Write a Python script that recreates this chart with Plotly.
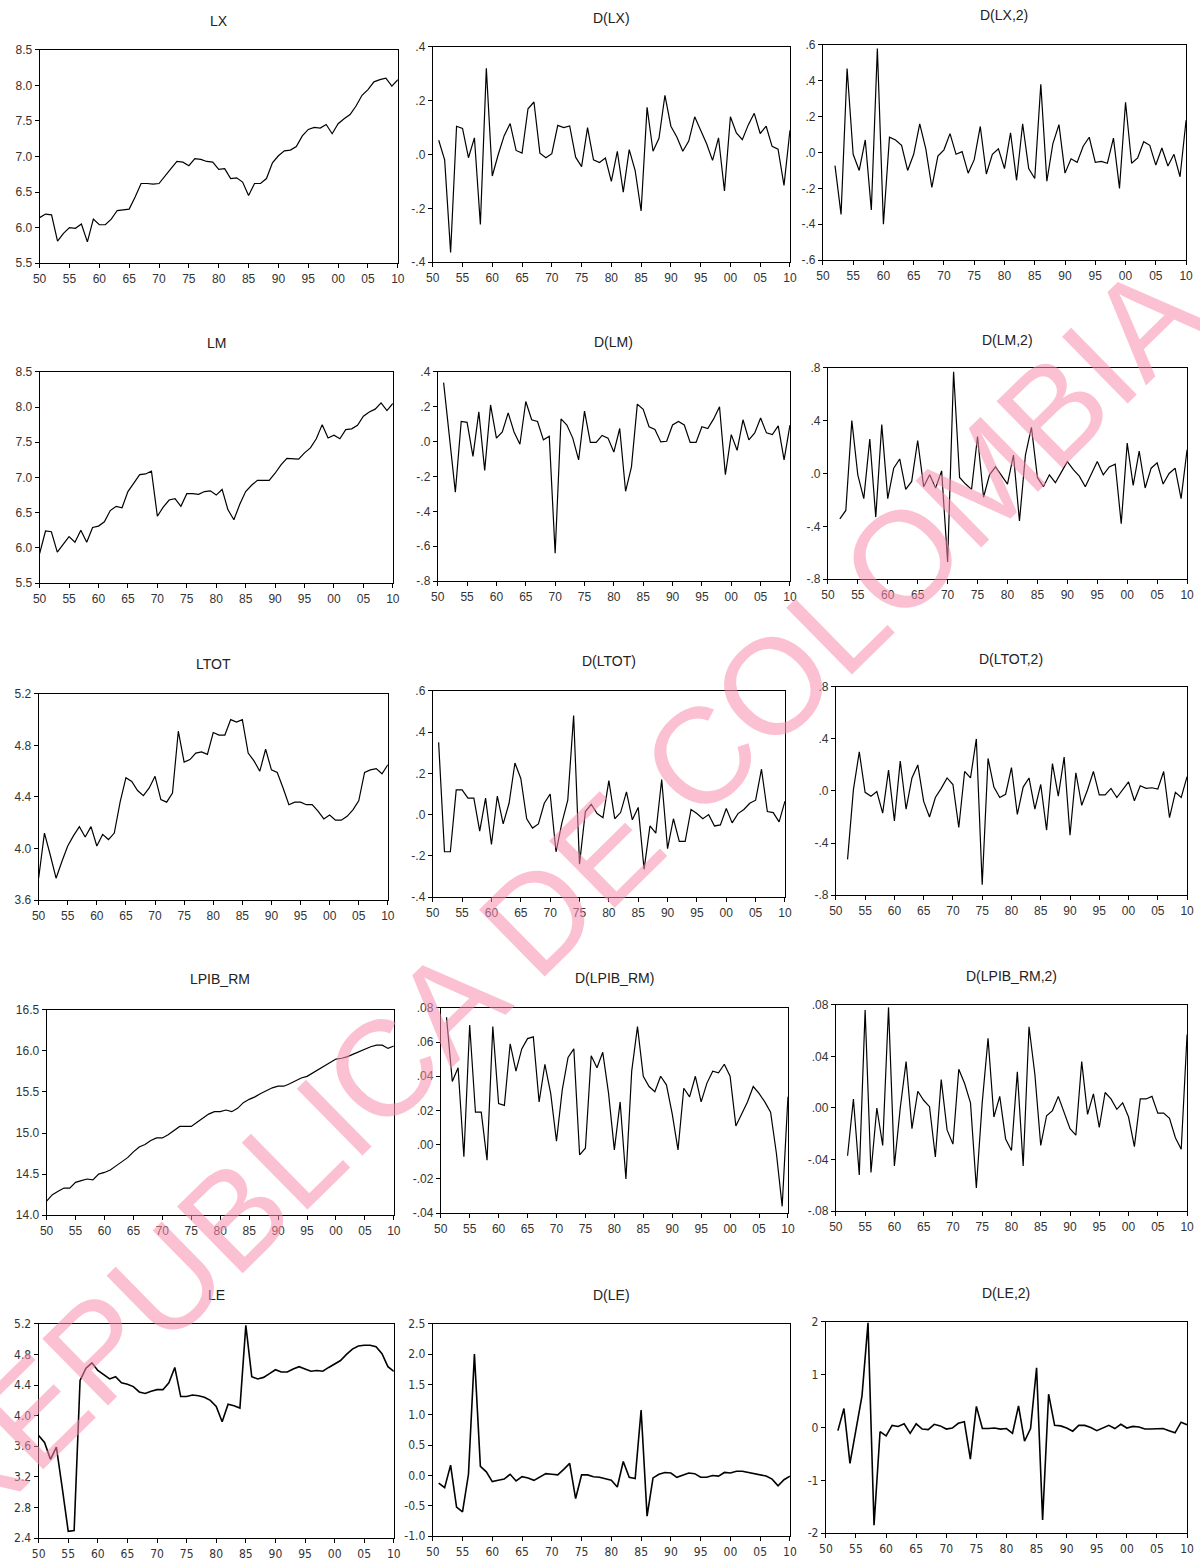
import plotly.graph_objects as go

YEARS = list(range(1950, 2011))

LX = [6.14, 6.19, 6.18, 5.81, 5.92, 6.00, 5.99, 6.05, 5.80, 6.12,
      6.04, 6.04, 6.12, 6.24, 6.25, 6.26, 6.43, 6.62, 6.62, 6.61,
      6.62, 6.73, 6.83, 6.93, 6.92, 6.87, 6.97, 6.96, 6.93, 6.92,
      6.82, 6.83, 6.69, 6.70, 6.64, 6.45, 6.62, 6.62, 6.69, 6.91,
      7.01, 7.08, 7.09, 7.14, 7.29, 7.38, 7.41, 7.40, 7.45, 7.32,
      7.46, 7.53, 7.59, 7.71, 7.86, 7.94, 8.05, 8.08, 8.10, 7.99,
      8.08]

D_LX = [0.053, -0.02, -0.364, 0.105, 0.097, -0.012, 0.062, -0.26, 0.32,
        -0.08, 0.00, 0.07, 0.115, 0.015, 0.005, 0.17, 0.195, 0.005, -0.012,
        0.003, 0.108, 0.100, 0.106, -0.01, -0.045, 0.10, -0.02, -0.03, -0.013,
        -0.10, 0.012, -0.14, 0.018, -0.06, -0.21, 0.175, 0.012, 0.06, 0.22,
        0.105, 0.065, 0.012, 0.05, 0.14, 0.09, 0.04, -0.022, 0.062, -0.135,
        0.14, 0.08, 0.055, 0.11, 0.153, 0.078, 0.105, 0.03, 0.02, -0.115,
        0.09]

D2_LX = [-0.073, -0.345, 0.468, -0.01, -0.10, 0.07, -0.32, 0.58,
         -0.40, 0.085, 0.07, 0.04, -0.10, -0.01, 0.16, 0.02, -0.195, -0.02,
         0.015, 0.105, -0.01, 0.005, -0.115, -0.04, 0.145, -0.12, -0.01, 0.02,
         -0.09, 0.11, -0.155, 0.16, -0.09, -0.145, 0.38, -0.16, 0.05, 0.155,
         -0.115, -0.035, -0.055, 0.035, 0.085, -0.055, -0.05, -0.06, 0.08, -0.20,
         0.28, -0.06, -0.03, 0.06, 0.04, -0.07, 0.025, -0.075, -0.01, -0.135,
         0.18]

LM = [5.92, 6.24, 6.23, 5.94, 6.05, 6.16, 6.08, 6.25, 6.08, 6.29,
      6.31, 6.37, 6.53, 6.59, 6.57, 6.80, 6.92, 7.04, 7.05, 7.09,
      6.45, 6.58, 6.68, 6.70, 6.59, 6.77, 6.77, 6.76, 6.80, 6.81,
      6.75, 6.83, 6.54, 6.40, 6.62, 6.80, 6.89, 6.96, 6.96, 6.96,
      7.06, 7.18, 7.27, 7.27, 7.26, 7.35, 7.42, 7.55, 7.75, 7.56,
      7.60, 7.55, 7.68, 7.69, 7.74, 7.87, 7.93, 7.97, 8.06, 7.95,
      8.05]

D_LM = [0.338, 0.02, -0.29, 0.115, 0.11, -0.085, 0.17, -0.165, 0.21,
        0.02, 0.055, 0.165, 0.055, -0.015, 0.23, 0.125, 0.115, 0.01, 0.03,
        -0.64, 0.13, 0.095, 0.02, -0.105, 0.175, -0.005, -0.005, 0.035, 0.02,
        -0.06, 0.075, -0.285, -0.145, 0.215, 0.185, 0.085, 0.07, -0.002, 0.002,
        0.095, 0.115, 0.095, -0.005, -0.005, 0.085, 0.075, 0.13, 0.20, -0.19,
        0.04, -0.05, 0.125, 0.01, 0.05, 0.135, 0.05, 0.04, 0.09, -0.105,
        0.095]

D2_LM = [-0.343, -0.28, 0.40, -0.01, -0.19, 0.26, -0.33, 0.37,
         -0.19, 0.04, 0.11, -0.12, -0.06, 0.25, -0.10, -0.01, -0.11, 0.02,
         -0.67, 0.77, -0.03, -0.08, -0.12, 0.28, -0.18, -0.01, 0.05, -0.02,
         -0.08, 0.14, -0.36, 0.14, 0.35, -0.03, -0.10, -0.01, -0.07, 0.01,
         0.09, 0.03, -0.02, -0.10, -0.01, 0.09, -0.01, 0.05, 0.07, -0.38,
         0.23, -0.09, 0.17, -0.11, 0.04, 0.08, -0.08, 0.00, 0.04, -0.19,
         0.18]

LTOT = [3.77, 4.12, 3.95, 3.77, 3.90, 4.02, 4.10, 4.17, 4.09, 4.17,
        4.02, 4.11, 4.07, 4.12, 4.36, 4.55, 4.52, 4.45, 4.41, 4.47,
        4.56, 4.38, 4.36, 4.43, 4.91, 4.67, 4.69, 4.74, 4.75, 4.73,
        4.90, 4.88, 4.88, 5.00, 4.98, 5.00, 4.74, 4.68, 4.60, 4.77,
        4.61, 4.59, 4.47, 4.34, 4.36, 4.36, 4.34, 4.34, 4.29, 4.23,
        4.26, 4.22, 4.22, 4.25, 4.30, 4.37, 4.59, 4.61, 4.62, 4.58,
        4.65]

D_LTOT = [0.35, -0.18, -0.18, 0.12, 0.12, 0.08, 0.08, -0.08, 0.08,
          -0.145, 0.09, -0.045, 0.055, 0.25, 0.175, -0.02, -0.065, -0.045, 0.055,
          0.10, -0.18, -0.04, 0.07, 0.48, -0.24, 0.015, 0.05, 0.005, -0.015,
          0.165, -0.02, 0.01, 0.11, -0.025, 0.035, -0.265, -0.055, -0.09, 0.17,
          -0.165, -0.02, -0.13, -0.13, 0.025, 0.005, -0.02, 0.00, -0.055, -0.05,
          0.03, -0.04, 0.005, 0.025, 0.055, 0.07, 0.22, 0.015, 0.01, -0.035,
          0.065]

D2_LTOT = [-0.525, 0.01, 0.30, -0.01, -0.04, -0.005, -0.17, 0.16,
           -0.23, 0.23, -0.14, 0.10, 0.20, -0.08, -0.20, -0.05, 0.02, 0.10,
           0.05, -0.28, 0.15, 0.10, 0.40, -0.72, 0.25, 0.03, -0.05, -0.025,
           0.18, -0.18, 0.03, 0.10, -0.14, 0.05, -0.30, 0.21, -0.04, 0.26,
           -0.34, 0.14, -0.11, 0.01, 0.15, -0.03, -0.03, 0.02, -0.05, 0.01,
           0.07, -0.075, 0.04, 0.02, 0.025, 0.015, 0.15, -0.205, -0.01, -0.05,
           0.11]

LPIB_RM = [14.17, 14.25, 14.29, 14.33, 14.33, 14.40, 14.42, 14.44, 14.43, 14.50,
           14.52, 14.55, 14.60, 14.65, 14.70, 14.77, 14.83, 14.86, 14.91, 14.94,
           14.94, 14.98, 15.03, 15.08, 15.08, 15.08, 15.13, 15.18, 15.23, 15.26,
           15.26, 15.28, 15.26, 15.30, 15.37, 15.41, 15.44, 15.48, 15.52, 15.55,
           15.57, 15.57, 15.60, 15.63, 15.67, 15.69, 15.73, 15.77, 15.82, 15.86,
           15.90, 15.91, 15.93, 15.96, 15.99, 16.02, 16.05, 16.07, 16.07, 16.03,
           16.06]

D_LPIB_RM = [0.0745, 0.037, 0.045, -0.007, 0.070, 0.019, 0.019, -0.009, 0.069,
             0.024, 0.023, 0.059, 0.043, 0.056, 0.062, 0.063, 0.025, 0.047, 0.030,
             0.002, 0.032, 0.051, 0.056, -0.006, -0.002, 0.052, 0.045, 0.054, 0.030,
             -0.003, 0.025, -0.020, 0.043, 0.069, 0.040, 0.034, 0.031, 0.040, 0.035,
             0.018, -0.003, 0.033, 0.028, 0.040, 0.025, 0.036, 0.043, 0.042, 0.047,
             0.040, 0.011, 0.018, 0.025, 0.034, 0.030, 0.025, 0.019, -0.005, -0.036,
             0.028]

D2_LPIB_RM = [-0.037, 0.007, -0.052, 0.076, -0.050, 0.000, -0.029, 0.078,
              -0.045, 0.000, 0.036, -0.016, 0.013, 0.006, 0.001, -0.038, 0.022, -0.017,
              -0.028, 0.030, 0.019, 0.004, -0.062, 0.004, 0.054, -0.007, 0.009, -0.024,
              -0.033, 0.028, -0.045, 0.063, 0.026, -0.029, -0.006, -0.002, 0.009, -0.004,
              -0.016, -0.021, 0.036, -0.005, 0.011, -0.015, 0.012, 0.007, -0.001, 0.004,
              -0.007, -0.030, 0.007, 0.007, 0.009, -0.004, -0.004, -0.008, -0.023, -0.032,
              0.057]

LE = [3.74, 3.65, 3.43, 3.59, 3.05, 2.49, 2.50, 4.46, 4.62, 4.69,
      4.59, 4.53, 4.48, 4.51, 4.43, 4.41, 4.38, 4.31, 4.29, 4.32,
      4.34, 4.34, 4.43, 4.63, 4.25, 4.25, 4.27, 4.26, 4.24, 4.20,
      4.12, 3.92, 4.15, 4.13, 4.10, 5.18, 4.51, 4.48, 4.50, 4.55,
      4.60, 4.57, 4.57, 4.61, 4.64, 4.61, 4.58, 4.59, 4.58, 4.63,
      4.67, 4.72, 4.80, 4.87, 4.91, 4.92, 4.92, 4.90, 4.81, 4.64,
      4.58]

D_LE = [-0.125, -0.20, 0.17, -0.52, -0.60, 0.02, 2.00, 0.15, 0.06,
        -0.10, -0.08, -0.06, 0.02, -0.09, -0.02, -0.04, -0.08, -0.03, 0.03,
        0.02, 0.01, 0.10, 0.20, -0.38, 0.01, 0.01, -0.02, -0.03, -0.05,
        -0.08, -0.19, 0.23, -0.03, -0.05, 1.08, -0.67, -0.04, 0.02, 0.05,
        0.04, -0.03, 0.00, 0.04, 0.03, -0.03, -0.03, 0.00, -0.01, 0.05,
        0.04, 0.07, 0.07, 0.05, 0.02, 0.00, -0.01, -0.06, -0.17, -0.07,
        -0.01]

D2_LE = [-0.06, 0.36, -0.68, -0.05, 0.60, 1.98, -1.85, -0.08,
         -0.16, 0.04, 0.02, 0.07, -0.11, 0.07, -0.03, -0.04, 0.06, 0.03,
         -0.03, -0.01, 0.08, 0.11, -0.60, 0.40, -0.02, -0.02, -0.01, -0.03,
         -0.02, -0.11, 0.41, -0.26, -0.02, 1.13, -1.75, 0.63, 0.04, 0.03,
         -0.01, -0.07, 0.04, 0.04, 0.00, -0.06, -0.01, 0.04, -0.02, 0.06,
         -0.01, 0.02, 0.01, -0.03, -0.03, -0.02, -0.02, -0.06, -0.10, 0.10,
         0.05]

X_TICKS = list(range(1950, 2011, 5))
X_TICK_TEXT = ["50", "55", "60", "65", "70", "75", "80", "85", "90", "95", "00", "05", "10"]

TICKS_LEVEL_X = [5.5, 6.0, 6.5, 7.0, 7.5, 8.0, 8.5]
TEXT_LEVEL_X = ["5.5", "6.0", "6.5", "7.0", "7.5", "8.0", "8.5"]
TICKS_D_LX = [-0.4, -0.2, 0.0, 0.2, 0.4]
TEXT_D_LX = ["-.4", "-.2", ".0", ".2", ".4"]
TICKS_D2_LX = [-0.6, -0.4, -0.2, 0.0, 0.2, 0.4, 0.6]
TEXT_D2_LX = ["-.6", "-.4", "-.2", ".0", ".2", ".4", ".6"]
TICKS_D_LM = [-0.8, -0.6, -0.4, -0.2, 0.0, 0.2, 0.4]
TEXT_D_LM = ["-.8", "-.6", "-.4", "-.2", ".0", ".2", ".4"]
TICKS_PM8 = [-0.8, -0.4, 0.0, 0.4, 0.8]
TEXT_PM8 = ["-.8", "-.4", ".0", ".4", ".8"]
TICKS_LTOT = [3.6, 4.0, 4.4, 4.8, 5.2]
TEXT_LTOT = ["3.6", "4.0", "4.4", "4.8", "5.2"]
TICKS_D_LTOT = [-0.4, -0.2, 0.0, 0.2, 0.4, 0.6]
TEXT_D_LTOT = ["-.4", "-.2", ".0", ".2", ".4", ".6"]
TICKS_LPIB = [14.0, 14.5, 15.0, 15.5, 16.0, 16.5]
TEXT_LPIB = ["14.0", "14.5", "15.0", "15.5", "16.0", "16.5"]
TICKS_D_LPIB = [-0.04, -0.02, 0.0, 0.02, 0.04, 0.06, 0.08]
TEXT_D_LPIB = ["-.04", "-.02", ".00", ".02", ".04", ".06", ".08"]
TICKS_D2_LPIB = [-0.08, -0.04, 0.0, 0.04, 0.08]
TEXT_D2_LPIB = ["-.08", "-.04", ".00", ".04", ".08"]
TICKS_LE = [2.4, 2.8, 3.2, 3.6, 4.0, 4.4, 4.8, 5.2]
TEXT_LE = ["2.4", "2.8", "3.2", "3.6", "4.0", "4.4", "4.8", "5.2"]
TICKS_D_LE = [-1.0, -0.5, 0.0, 0.5, 1.0, 1.5, 2.0, 2.5]
TEXT_D_LE = ["-1.0", "-0.5", "0.0", "0.5", "1.0", "1.5", "2.0", "2.5"]
TICKS_D2_LE = [-2, -1, 0, 1, 2]
TEXT_D2_LE = ["-2", "-1", "0", "1", "2"]

WATERMARK = "REPUBLICA DE COLOMBIA"

# panel specs: title, series, y range, ticks, ticktext, box (left, top, right, bottom px), title y px, narrow font
PANELS = [
    ("LX", LX, (5.5, 8.5), TICKS_LEVEL_X, TEXT_LEVEL_X, (38, 47, 397, 261), 18, False),
    ("D(LX)", D_LX, (-0.4, 0.4), TICKS_D_LX, TEXT_D_LX, (432, 44, 790, 260), 15, False),
    ("D(LX,2)", D2_LX, (-0.6, 0.6), TICKS_D2_LX, TEXT_D2_LX, (823, 42, 1187, 258), 12, False),
    ("LM", LM, (5.5, 8.5), TICKS_LEVEL_X, TEXT_LEVEL_X, (38, 370, 392, 582), 341, False),
    ("D(LM)", D_LM, (-0.8, 0.4), TICKS_D_LM, TEXT_D_LM, (437, 370, 790, 580), 340, False),
    ("D(LM,2)", D2_LM, (-0.8, 0.8), TICKS_PM8, TEXT_PM8, (828, 366, 1188, 578), 338, False),
    ("LTOT", LTOT, (3.6, 5.2), TICKS_LTOT, TEXT_LTOT, (37, 693, 387, 900), 663, False),
    ("D(LTOT)", D_LTOT, (-0.4, 0.6), TICKS_D_LTOT, TEXT_D_LTOT, (432, 690, 785, 897), 660, False),
    ("D(LTOT,2)", D2_LTOT, (-0.8, 0.8), TICKS_PM8, TEXT_PM8, (836, 686, 1188, 895), 658, False),
    ("LPIB_RM", LPIB_RM, (14.0, 16.5), TICKS_LPIB, TEXT_LPIB, (45, 1010, 393, 1216), 979, False),
    ("D(LPIB_RM)", D_LPIB_RM, (-0.04, 0.08), TICKS_D_LPIB, TEXT_D_LPIB, (440, 1008, 788, 1214), 978, False),
    ("D(LPIB_RM,2)", D2_LPIB_RM, (-0.08, 0.08), TICKS_D2_LPIB, TEXT_D2_LPIB, (836, 1005, 1188, 1212), 976, False),
    ("LE", LE, (2.4, 5.2), TICKS_LE, TEXT_LE, (37, 1325, 393, 1540), 1296, True),
    ("D(LE)", D_LE, (-1.0, 2.5), TICKS_D_LE, TEXT_D_LE, (432, 1325, 790, 1538), 1296, True),
    ("D(LE,2)", D2_LE, (-2, 2), TICKS_D2_LE, TEXT_D2_LE, (826, 1323, 1188, 1535), 1294, True),
]

W, H = 1200, 1561
REG = "Liberation Sans, Arial, sans-serif"
NARROW = "Liberation Sans Narrow, DejaVu Sans Condensed, Arial Narrow, sans-serif"


def px_x(x):
    return (x * 1.00957 - 5.36) / W


def px_y(y):
    return 1 - (y * 1.00589 - 4.07) / H


fig = go.Figure()
layout = dict(width=W, height=H, margin=dict(l=0, r=0, t=0, b=0),
              paper_bgcolor="white", plot_bgcolor="white", showlegend=False)
annotations = []

for i, (title, vals, yr, tv, tt, box, ty, narrow) in enumerate(PANELS, start=1):
    L, T, R, B = box
    fam = NARROW if narrow else REG
    xs = YEARS[len(YEARS) - len(vals):]
    xa = "x" if i == 1 else f"x{i}"
    ya = "y" if i == 1 else f"y{i}"
    fig.add_trace(go.Scatter(x=xs, y=vals, mode="lines",
                             line=dict(color="black", width=1.6 if narrow else 1.2),
                             xaxis=xa, yaxis=ya, hoverinfo="skip"))
    axis_common = dict(showline=True, mirror=True, linecolor="black", linewidth=1,
                       showgrid=False, zeroline=False, ticks="outside", ticklen=4,
                       tickcolor="black", tickwidth=1,
                       tickfont=dict(family=fam, size=12, color="#333333"))
    layout[f"xaxis{'' if i == 1 else i}"] = dict(
        domain=[px_x(L), px_x(R)], range=[1950, 2010], anchor=ya,
        tickmode="array", tickvals=X_TICKS, ticktext=X_TICK_TEXT, **axis_common)
    layout[f"yaxis{'' if i == 1 else i}"] = dict(
        domain=[px_y(B), px_y(T)], range=list(yr), anchor=xa,
        tickmode="array", tickvals=tv, ticktext=tt, **axis_common)
    annotations.append(dict(text=title, x=px_x((L + R) / 2), y=px_y(ty),
                            xref="paper", yref="paper", showarrow=False,
                            xanchor="center", yanchor="middle",
                            font=dict(family=REG, size=14, color="#222222")))

annotations.append(dict(text=WATERMARK, x=px_x(555), y=px_y(900),
                        xref="paper", yref="paper", showarrow=False,
                        xanchor="center", yanchor="middle", textangle=-44.5,
                        font=dict(family=REG, size=136, color="rgba(250,140,175,0.55)")))

layout["annotations"] = annotations
fig.update_layout(**layout)

# the page written by write_html has the browser's default 8px body margin; remove it
POST = ("document.body.style.margin='0';"
        "document.body.style.overflow='hidden';"
        "document.documentElement.style.overflow='hidden';")
fig.write_html("out.html", post_script=POST,
               config={"displayModeBar": False, "staticPlot": True})
